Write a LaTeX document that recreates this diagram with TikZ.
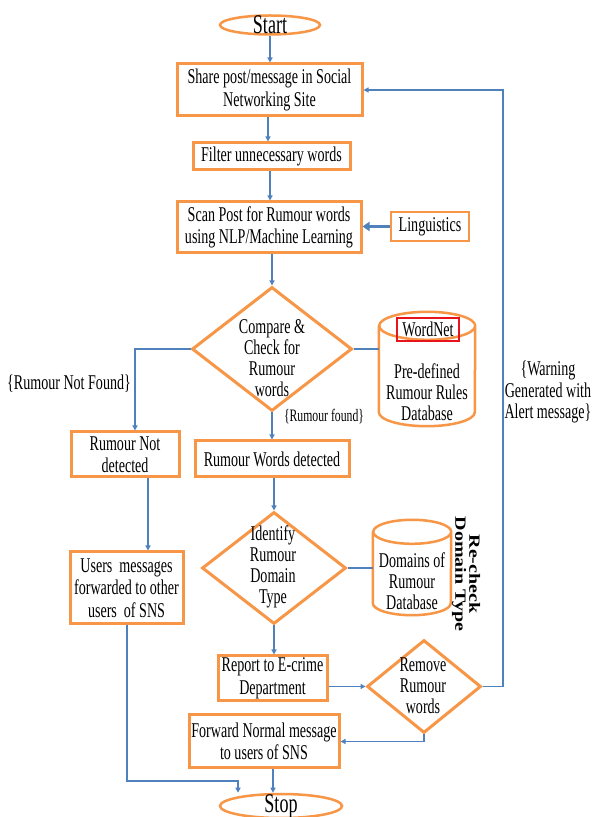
\documentclass[tikz,border=0pt]{standalone}
\usepackage{fontspec}
\setmainfont{Liberation Serif}[FakeStretch=0.67]
\newfontfamily\rotfont{Liberation Serif}
\usetikzlibrary{arrows.meta,shapes.geometric,calc}
\definecolor{orng}{HTML}{F79646}
\definecolor{blu}{HTML}{4F81BD}
\definecolor{redb}{HTML}{E8141B}
\newcommand\tightls{\lineskiplimit=-10pt\relax}
\begin{document}
\begin{tikzpicture}[x=1pt,y=1pt,
  box/.style={draw=orng, line width=3pt, fill=white, inner sep=0pt, align=center, font=\fontsize{21}{22.5}\selectfont\tightls},
  term/.style={ellipse, draw=orng, line width=2.5pt, inner sep=0pt},
  tfont/.style={font=\fontsize{27}{28}\selectfont},
  dia/.style={diamond, draw=orng, line width=3pt, inner sep=0pt},
  dtext/.style={align=center, font=\fontsize{21}{21.2}\selectfont\tightls},
  lbl/.style={align=center, font=\fontsize{21}{21.5}\selectfont\tightls},
  conn/.style={draw=blu, line width=1.2pt},
  arr/.style={conn, -{Triangle[width=5pt,length=5pt]}},
  dbline/.style={draw=orng, line width=2.5pt},
]
\useasboundingbox (0,0) rectangle (592,817);
\fill[white] (0,0) rectangle (592,817);

% terminals
\node[term, minimum width=100pt, minimum height=19pt, label={[tfont]center:Start}] (start) at (270,792) {};
\node[term, minimum width=122pt, minimum height=24pt, label={[tfont]center:Stop}] (stop) at (281,11) {};

% process boxes
\node[box, minimum width=185pt, minimum height=52pt] (share) at (269.5,727) {Share post/message in Social\\Networking Site};
\node[box, minimum width=157pt, minimum height=27pt] (filter) at (271.5,660.5) {Filter unnecessary words};
\node[box, minimum width=184pt, minimum height=51pt] (scan) at (269,589.5) {Scan Post for Rumour words\\using NLP/Machine Learning};
\node[box, line width=2.5pt, minimum width=78pt, minimum height=29pt] (ling) at (430,590.5) {Linguistics};
\node[box, minimum width=108pt, minimum height=45pt] (rnd) at (125,362.5) {Rumour Not\\detected};
\node[box, minimum width=154pt, minimum height=36pt] (rwd) at (272,358) {Rumour Words detected};
\node[box, minimum width=113pt, minimum height=72pt] (users) at (126.5,229) {Users\ \ messages\\forwarded to other\\users\ \ of SNS};
\node[box, minimum width=109pt, minimum height=45pt] (report) at (272.5,138.5) {Report to E-crime\\Department};
\node[box, minimum width=150pt, minimum height=53pt] (forward) at (264,75.5) {Forward Normal message\\to users of SNS};

% decisions
\node[dia, minimum width=160pt, minimum height=124pt] (cmp) at (272,468) {};
\node[dtext] (cmpt) at (272,459) {Compare \&\\Check for\\Rumour\\words};
\node[dia, minimum width=144pt, minimum height=112pt] (idf) at (274,249) {};
\node[dtext] (idft) at (273,250) {Identify\\Rumour\\Domain\\Type};
\node[dia, minimum width=114pt, minimum height=93pt] (remove) at (424,130.5) {};
\node[dtext] (removet) at (423,131) {Remove\\Rumour\\words};

% databases
\node[minimum width=96pt, minimum height=114pt, inner sep=0pt] (db1) at (427,448) {};
\draw[dbline] ([yshift=-14pt]db1.north west) -- ([yshift=14pt]db1.south west)
  arc[start angle=180,end angle=360,x radius=48pt,y radius=14pt]
  -- ([yshift=-14pt]db1.north east)
  arc[start angle=0,end angle=180,x radius=48pt,y radius=14pt]
  arc[start angle=180,end angle=360,x radius=48pt,y radius=14pt];
\node[draw=redb, line width=1.8pt, inner sep=0pt, minimum width=62pt, minimum height=23pt, font=\fontsize{21}{21}\selectfont] (wn) at (428,487.5) {WordNet};
\node[dtext] (db1t) at (427,424.5) {Pre-defined\\Rumour Rules\\Database};

\node[minimum width=78pt, minimum height=95pt, inner sep=0pt] (db2) at (412,249.5) {};
\draw[dbline] ([yshift=-12pt]db2.north west) -- ([yshift=12pt]db2.south west)
  arc[start angle=180,end angle=360,x radius=39pt,y radius=12pt]
  -- ([yshift=-12pt]db2.north east)
  arc[start angle=0,end angle=180,x radius=39pt,y radius=12pt]
  arc[start angle=180,end angle=360,x radius=39pt,y radius=12pt];
\node[dtext] (db2t) at (412,236) {Domains of\\Rumour\\Database};

\node[rotate=-90, align=center, inner sep=0pt, font=\rotfont\bfseries\fontsize{20}{14}\selectfont] (rechk) at (466,243) {\scalebox{1}[0.78]{Re-check}\\\scalebox{1}[0.78]{Domain Type}};

% labels
\node[lbl] (nf) at (69,433) {\{Rumour Not Found\}};
\node[lbl, font=\fontsize{17.5}{18}\selectfont] (fd) at (324,400) {\{Rumour found\}};
\node[lbl] (warn) at (548,425) {\{Warning\\Generated with\\Alert message\}};

% connectors
\draw[arr] (start.south) -- (start.south |- share.north);
\draw[arr] (share.south -| 268,0) -- (268,0 |- filter.north);
\draw[arr] (filter.south -| 270,0) -- (270,0 |- scan.north);
\draw[conn, line width=3pt, -{Triangle[width=9pt,length=7pt]}] (ling.west) -- (ling.west -| scan.east);
\draw[arr] (scan.south -| cmp.north) -- (cmp.north);
\draw[conn] (cmp.east) -- (cmp.east -| db1.west);
\draw[arr, line width=1.8pt] (cmp.west) -| ([xshift=10pt]rnd.north);
\draw[arr] (cmp.south) -- (cmp.south |- rwd.north);
\draw[arr] (rwd.south -| idf.north) -- (idf.north);
\draw[conn] (idf.east) -- (idf.east -| db2.west);
\draw[arr, line width=1.8pt] ([xshift=23pt]rnd.south) -- ([xshift=23pt]rnd.south |- users.north);
\draw[arr] (idf.south) -- (idf.south |- report.north);
\draw[arr] (report.east |- remove.west) -- (remove.west);
\coordinate (rt) at (503,130.5);
\draw[arr] (remove.east) -- (rt) |- (share.east);
\draw[arr] (remove.south) |- (forward.east);
\coordinate (sa) at (238,36);
\draw[arr] ([xshift=0.5pt]users.south) |- (sa) -- (stop.north -| sa);
\draw[arr] ([xshift=9pt]forward.south) -- ([xshift=9pt]forward.south |- stop.north);
\end{tikzpicture}
\end{document}
